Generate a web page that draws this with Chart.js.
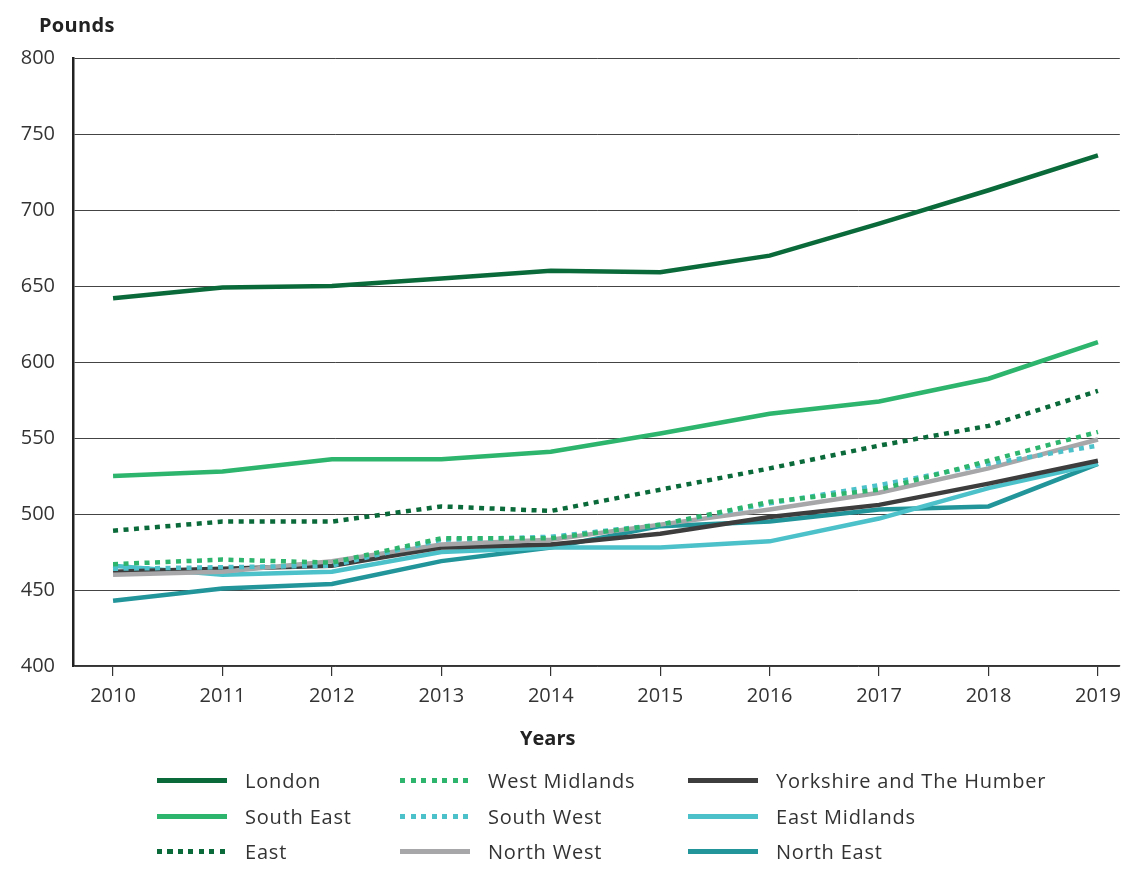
<!DOCTYPE html>
<html>
<head>
<meta charset="utf-8">
<script src="https://cdn.jsdelivr.net/npm/chart.js@4.4.1/dist/chart.umd.min.js"></script>
<style>
  html, body { margin: 0; padding: 0; background: #fff; }
  #wrap { position: relative; width: 1129px; height: 869px; font-family: "Open Sans", Lato, sans-serif; color: #333; }
  #chart { position: absolute; left: 0; top: 0; }
  #ytitle { position: absolute; left: 39px; top: 11px; font-size: 20px; font-weight: bold; color: #222; letter-spacing: 0.3px; }
  #xtitle { position: absolute; left: 520px; top: 724px; font-size: 20px; font-weight: bold; color: #222; }
  #legend { position: absolute; left: 157px; top: 763px; display: grid; grid-auto-flow: column;
            grid-template-rows: repeat(3, 35.5px); grid-template-columns: 243px 288px auto; }
  .item { display: flex; align-items: center; font-size: 20px; color: #333; letter-spacing: 0.8px; }
  .sw { width: 70px; height: 5px; margin-right: 18px; flex: none; }
</style>
</head>
<body>
<div id="wrap">
  <canvas id="chart" width="1129" height="869"></canvas>
  <div id="ytitle">Pounds</div>
  <div id="xtitle">Years</div>
  <div id="legend"></div>
</div>
<script>
// Average weekly earnings by region, 2010-2019
const years = [2010, 2011, 2012, 2013, 2014, 2015, 2016, 2017, 2018, 2019];
const yTicks = [400, 450, 500, 550, 600, 650, 700, 750, 800];

const london        = [642, 649, 650, 655, 660, 659, 670, 691, 713, 736];
const southEast     = [525, 528, 536, 536, 541, 553, 566, 574, 589, 613];
const east          = [489, 495, 495, 505, 502, 516, 530, 545, 558, 581];
const westMidlands  = [467, 470, 468, 484, 484, 493, 508, 516, 535, 554];
const southWest     = [464, 465, 466, 483, 485, 493, 507, 519, 533, 545];
const northWest     = [460, 462, 469, 480, 483, 493, 503, 514, 530, 549];
const yorkshire     = [462, 464, 466, 478, 480, 487, 498, 506, 520, 535];
const eastMidlands  = [466, 460, 462, 475, 478, 478, 482, 497, 517, 533];
const northEast     = [443, 451, 454, 469, 478, 492, 495, 503, 505, 533];

const series = [
    { label: "London", data: london, color: "#0b6a3a", dotted: false },
    { label: "South East", data: southEast, color: "#2db46d", dotted: false },
    { label: "East", data: east, color: "#0b6a3a", dotted: true },
    { label: "West Midlands", data: westMidlands, color: "#2db46d", dotted: true },
    { label: "South West", data: southWest, color: "#4cc1c9", dotted: true },
    { label: "North West", data: northWest, color: "#a7a7aa", dotted: false },
    { label: "Yorkshire and The Humber", data: yorkshire, color: "#3d3d3d", dotted: false },
    { label: "East Midlands", data: eastMidlands, color: "#4cc1c9", dotted: false },
    { label: "North East", data: northEast, color: "#22959b", dotted: false },
];

const datasets = series.map((s) => ({
    label: s.label,
    data: s.data.map((v, i) => ({ x: years[i], y: v })),
    borderColor: s.color,
    backgroundColor: s.color,
    borderWidth: 4.5,
    borderDash: s.dotted ? [5, 5.5] : [],
    borderCapStyle: "butt",
    pointRadius: 0,
    tension: 0,
}));

const tickFont = { family: "'Open Sans', Lato, sans-serif", size: 20 };

new Chart(document.getElementById("chart"), {
    type: "line",
    data: { datasets },
    options: {
        responsive: false,
        animation: false,
        layout: { padding: { top: 58, right: 9, bottom: 109, left: 0 } },
        plugins: { legend: { display: false }, tooltip: { enabled: false } },
        scales: {
            x: {
                type: "linear",
                min: 2009.634,
                max: 2019.2,
                afterBuildTicks: (scale) => { scale.ticks = years.map((y) => ({ value: y })); },
                ticks: { color: "#333", font: tickFont, padding: 8, callback: (v) => String(v), maxRotation: 0 },
                grid: { drawOnChartArea: false, drawTicks: true, tickLength: 10, color: "#333", lineWidth: 1.2 },
                border: { display: true, color: "#333", width: 1.2 },
                afterFit: (scale) => { scale.height = 94; },
            },
            y: {
                min: 400,
                max: 800,
                afterBuildTicks: (scale) => { scale.ticks = yTicks.map((v) => ({ value: v })); },
                ticks: { color: "#333", font: tickFont, padding: 18 },
                grid: { color: "#444", lineWidth: 1, drawTicks: false },
                border: { display: true, color: "#222", width: 2.5 },
                afterFit: (scale) => { scale.width = 73; },
            },
        },
    },
});

// HTML legend laid out in three columns like the original
const legend = document.getElementById("legend");
series.forEach((s) => {
    const item = document.createElement("div");
    item.className = "item";
    const sw = document.createElement("span");
    sw.className = "sw";
    sw.style.background = s.dotted
        ? `repeating-linear-gradient(90deg, ${s.color} 0 5px, transparent 5px 10.5px)`
        : s.color;
    item.appendChild(sw);
    item.appendChild(document.createTextNode(s.label));
    legend.appendChild(item);
});
</script>
</body>
</html>
